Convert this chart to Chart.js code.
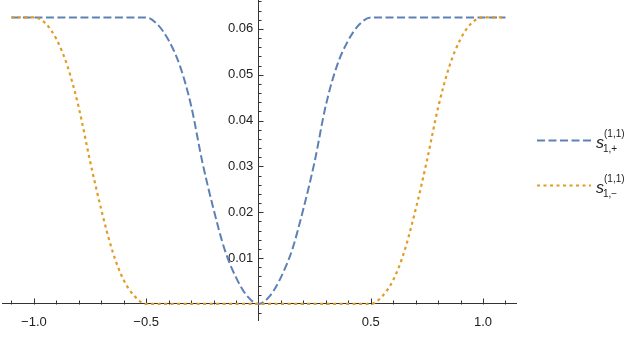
<!DOCTYPE html>
<html>
<head>
<meta charset="utf-8">
<script src="https://cdn.jsdelivr.net/npm/chart.js@4.4.1/dist/chart.umd.min.js"></script>
<style>
  body { margin: 0; background: #fff; }
  #wrap { position: relative; width: 640px; height: 352px; }
  .key { position: absolute; left: 0; top: 0; font-family: "Liberation Sans", Arial, sans-serif; color: #222; white-space: nowrap; }
  .key span { position: absolute; line-height: 1; }
  .key .sym { font-size: 16px; font-style: italic; }
  .key .sub, .key .sup { font-size: 10px; }
</style>
</head>
<body>
<div id="wrap">
  <canvas id="chart" width="640" height="352"></canvas>
</div>
<script>
// sample positions along x
const xValues = [-1.1, -1.05, -1.0, -0.95, -0.9, -0.85, -0.8, -0.75, -0.7, -0.65, -0.6, -0.55,
  -0.5, -0.45, -0.4, -0.35, -0.3, -0.25, -0.2, -0.15, -0.1, -0.05, 0,
  0.05, 0.1, 0.15, 0.2, 0.25, 0.3, 0.35, 0.4, 0.45, 0.5,
  0.55, 0.6, 0.65, 0.7, 0.75, 0.8, 0.85, 0.9, 0.95, 1.0, 1.05, 1.1];

// s_{1,+}^{(1,1)} (blue, dashed)
const sPlus = [0.0625, 0.0625, 0.0625, 0.0625, 0.0625, 0.0625, 0.0625, 0.0625, 0.0625, 0.0625, 0.0625, 0.0625,
  0.0625, 0.0610, 0.0575, 0.0520, 0.0433, 0.0310, 0.0207, 0.0118, 0.0058, 0.0017, 0,
  0.0017, 0.0058, 0.0118, 0.0207, 0.0310, 0.0433, 0.0520, 0.0575, 0.0610, 0.0625,
  0.0625, 0.0625, 0.0625, 0.0625, 0.0625, 0.0625, 0.0625, 0.0625, 0.0625, 0.0625, 0.0625, 0.0625];

// s_{1,-}^{(1,1)} (orange, dotted)
const sMinus = [0.0625, 0.0625, 0.0625, 0.0613, 0.0578, 0.0518, 0.0428, 0.0312, 0.0206, 0.0115, 0.0052, 0.0016,
  0, 0, 0, 0, 0, 0, 0, 0, 0, 0, 0,
  0, 0, 0, 0, 0, 0, 0, 0, 0, 0,
  0.0016, 0.0052, 0.0115, 0.0206, 0.0312, 0.0428, 0.0518, 0.0578, 0.0613, 0.0625, 0.0625, 0.0625];

const seriesSub = ['1,+', '1,\u2212'];
const seriesSup = ['(1,1)', '(1,1)'];
const seriesColors = ['#5E81B5', '#E19C24'];

const xMinorStep = 0.1;
const yMinorStep = 0.002;

const toPoints = ys => xValues.map((x, i) => ({ x: x, y: ys[i] }));

// Mathematica-style tick marks pointing into the plot
const axisTicks = {
    id: 'axisTicks',
    beforeDatasetsDraw(chart) {
        const { ctx, scales: { x, y } } = chart;
        const x0 = Math.round(x.getPixelForValue(0)) + 0.5;
        const y0 = Math.round(y.getPixelForValue(0)) + 0.5;
        ctx.save();
        ctx.strokeStyle = '#333';
        ctx.lineWidth = 1;
        ctx.beginPath();
        for (let i = -11; i <= 11; i++) {
            if (i === 0) continue;
            const px = Math.round(x.getPixelForValue(i * xMinorStep)) + 0.5;
            const len = i % 5 === 0 ? 6 : 4;
            ctx.moveTo(px, y0);
            ctx.lineTo(px, y0 - len);
        }
        for (let j = -1; j <= 33; j++) {
            if (j === 0) continue;
            const py = Math.round(y.getPixelForValue(j * yMinorStep)) + 0.5;
            const len = j % 5 === 0 ? 5 : 3;
            ctx.moveTo(x0, py);
            ctx.lineTo(x0 + len, py);
        }
        ctx.stroke();
        ctx.restore();
    }
};

const noPadding = s => { s.paddingTop = 0; s.paddingBottom = 0; s.paddingLeft = 0; s.paddingRight = 0; };

const ctx = document.getElementById('chart').getContext('2d');

new Chart(ctx, {
    type: 'line',
    data: {
        datasets: [{
            label: 's1+',
            data: toPoints(sPlus),
            borderColor: seriesColors[0],
            borderWidth: 2,
            borderDash: [8, 3.5],
            pointRadius: 0,
            cubicInterpolationMode: 'monotone',
            fill: false,
            order: 1,
        }, {
            label: 's1-',
            data: toPoints(sMinus),
            borderColor: seriesColors[1],
            borderWidth: 2.2,
            borderDash: [3, 3.5],
            pointRadius: 0,
            cubicInterpolationMode: 'monotone',
            fill: false,
            order: 0,
        }],
    },
    options: {
        responsive: false,
        animation: false,
        devicePixelRatio: 1,
        layout: { padding: { left: 2, right: 124, top: 0, bottom: 32 } },
        plugins: { legend: { display: false }, tooltip: { enabled: false } },
        scales: {
            x: {
                type: 'linear',
                min: -1.142,
                max: 1.147,
                position: { y: 0 },
                grid: { display: false, drawTicks: false },
                border: { display: true, color: '#333', width: 1 },
                afterFit: noPadding,
                ticks: {
                    stepSize: 0.5,
                    includeBounds: false,
                    autoSkip: false,
                    maxRotation: 0,
                    padding: 11,
                    color: '#222',
                    font: { family: 'Liberation Sans', size: 13 },
                    callback: v => Math.abs(v) < 1e-9 ? '' : (v < 0 ? '\u2212' : '') + Math.abs(v).toFixed(1),
                },
            },
            y: {
                type: 'linear',
                min: -0.0035,
                max: 0.0663,
                position: { x: 0 },
                grid: { display: false, drawTicks: false },
                border: { display: true, color: '#333', width: 1 },
                afterFit: noPadding,
                ticks: {
                    stepSize: 0.01,
                    includeBounds: false,
                    autoSkip: false,
                    color: '#222',
                    font: { family: 'Liberation Sans', size: 13 },
                    callback: v => Math.abs(v) < 1e-9 ? '' : v.toFixed(2) + '\u2009\u2009',
                },
            },
        },
    },
    plugins: [axisTicks],
});

// legend on the right
const wrap = document.getElementById('wrap');
seriesSub.forEach((sub, i) => {
    const dy = i * 45;
    const key = document.createElement('div');
    key.className = 'key';
    const dash = i === 0 ? '8 3.5' : '3 3.5';
    key.innerHTML =
        '<svg width="640" height="352" style="position:absolute;left:0;top:0">' +
        '<line x1="537" x2="591" y1="' + (140.5 + dy) + '" y2="' + (140.5 + dy) + '" stroke="' + seriesColors[i] +
        '" stroke-width="2.2" stroke-dasharray="' + dash + '"/></svg>' +
        '<span class="sym" style="left:596px;top:' + (134.5 + dy) + 'px">s</span>' +
        '<span class="sup" style="left:604px;top:' + (129 + dy) + 'px">' + seriesSup[i] + '</span>' +
        '<span class="sub" style="left:603px;top:' + (144 + dy) + 'px">' + sub + '</span>';
    wrap.appendChild(key);
});
</script>
</body>
</html>
